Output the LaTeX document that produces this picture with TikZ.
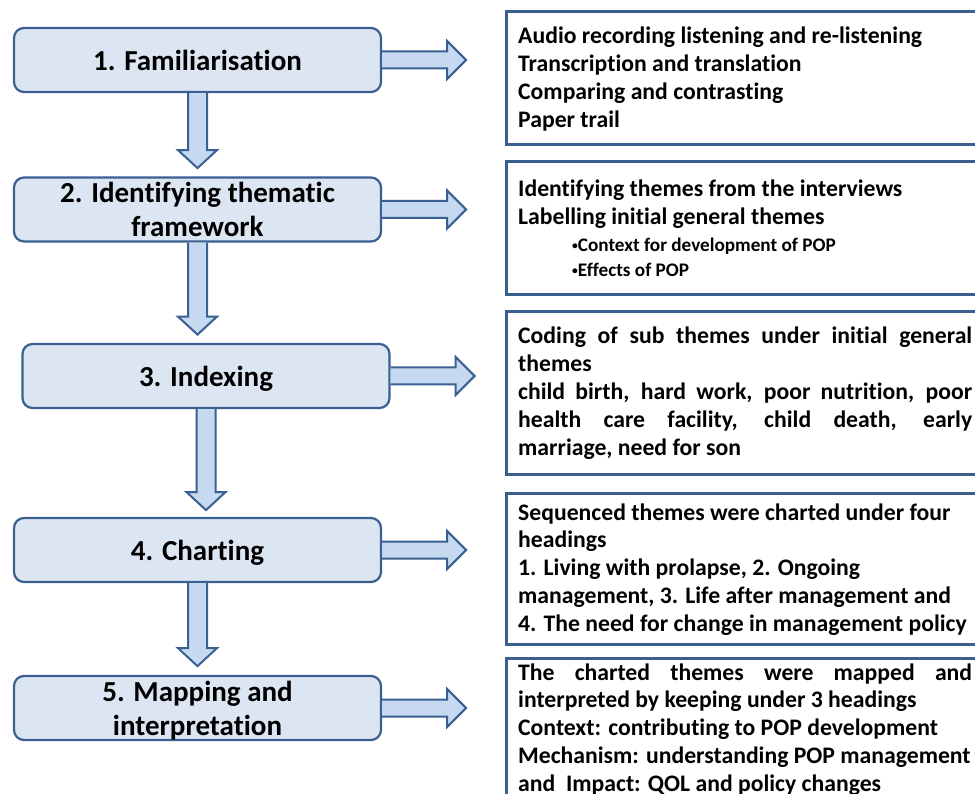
\documentclass[tikz,border=0pt]{standalone}
\usepackage{fontspec}
\setmainfont{Carlito}[Ligatures=NoCommon]
\usetikzlibrary{calc}
\definecolor{bordc}{HTML}{3A6091}
\definecolor{boxfill}{HTML}{DCE6F2}
\definecolor{arrfill}{HTML}{C6D9F1}
\tikzset{
  stage/.style={draw=bordc, fill=boxfill, line width=2.2pt, rounded corners=10pt,
    minimum width=367pt, minimum height=64pt, inner sep=0pt, align=center,
    text depth=0pt, font=\fontsize{29}{34}\selectfont\bfseries},
  frame/.style={draw=bordc, line width=3pt, fill=white, anchor=north west,
    minimum width=490pt, inner sep=0pt},
  blockarrow/.style={draw=bordc, fill=arrfill, line width=2pt, line join=miter},
  desc/.style={anchor=base west, inner sep=0pt},
}
\newcommand\rightblockarrow[2]{%
  \draw[blockarrow] ($(#1.east)+(0,8.5)$) -- ++(#2,0) -- ++(0,10.5) -- ++(19,-19)
    -- ++(-19,-19) -- ++(0,10.5) -- ++(-#2,0);}
\newcommand\downblockarrow[2]{%
  \draw[blockarrow] ($(#1.south)+(-9.5,0)$) -- ++(0,#2) -- ++(-10,0) -- ++(19.5,18)
    -- ++(19.5,-18) -- ++(-10,0) -- ++(0,-#2);}
\newcommand\jl[1]{\makebox[454pt][s]{#1}}
\newcommand\desctext[1]{\parbox[t]{480pt}{\raggedright\fontsize{23.7}{27.9}\selectfont\bfseries #1}}
\newcommand\smallbul{\raisebox{0.12em}{\scalebox{0.6}{•}}}
\begin{document}
\begin{tikzpicture}[x=1pt,y=-1pt]
\path[use as bounding box] (0,0) rectangle (975,794);
\clip (0,0) rectangle (975,794);
\fill[white] (0,0) rectangle (975,794);

% right-hand description frames
\node[frame, minimum height=133pt] (fa) at (505,10) {};
\node[frame, minimum height=133pt] (fb) at (505,160) {};
\node[frame, minimum height=163pt] (fc) at (505,310) {};
\node[frame, minimum height=151pt] (fd) at (505,492) {};
\node[frame, minimum height=160pt] (fe) at (505,657) {};

% left-hand stages
\node[stage] (s1) at (197.5,60) {1. Familiarisation};
\node[stage] (s2) at (197.5,209.5) {2. Identifying thematic\\framework};
\node[stage] (s3) at (206,376) {3. Indexing};
\node[stage] (s4) at (197.5,550) {4. Charting};
\node[stage] (s5) at (197.5,708) {5. Mapping and\\interpretation};

% arrows
\rightblockarrow{s1}{65}
\rightblockarrow{s2}{65}
\rightblockarrow{s3}{65}
\rightblockarrow{s4}{65}
\rightblockarrow{s5}{65}
\downblockarrow{s1}{57}
\downblockarrow{s2}{74}
\downblockarrow{s3}{83}
\downblockarrow{s4}{65}

% texts
\node[desc] (ta) at (518,44) {\desctext{Audio recording listening and re-listening\\
Transcription and translation\\Comparing and contrasting\\Paper trail}};
\node[desc] (tb) at (518,197) {\desctext{Identifying themes from the interviews\\
Labelling initial general themes}};
\node[desc] (tb2) at (572,252) {\parbox[t]{380pt}{\raggedright\fontsize{19.2}{25}\selectfont\bfseries
\smallbul Context for development of POP\\\smallbul Effects of POP}};
\node[desc] (tc) at (518,344) {\desctext{\jl{Coding of sub themes under initial general}\\
themes\\\jl{child birth, hard work, poor nutrition, poor}\\
\jl{health care facility, child death, early}\\marriage, need for son}};
\node[desc] (td) at (518,520) {\desctext{Sequenced themes were charted under four\\
headings\\1. Living with prolapse, 2. Ongoing\\
management, 3. Life after management and\\
4. The need for change in management policy}};
\node[desc] (te) at (518,680) {\desctext{\jl{The charted themes were mapped and}\\
interpreted by keeping under 3 headings\\
Context: contributing to POP development\\
Mechanism: understanding POP management\\
and~ Impact: QOL and policy changes}};
\end{tikzpicture}
\end{document}
